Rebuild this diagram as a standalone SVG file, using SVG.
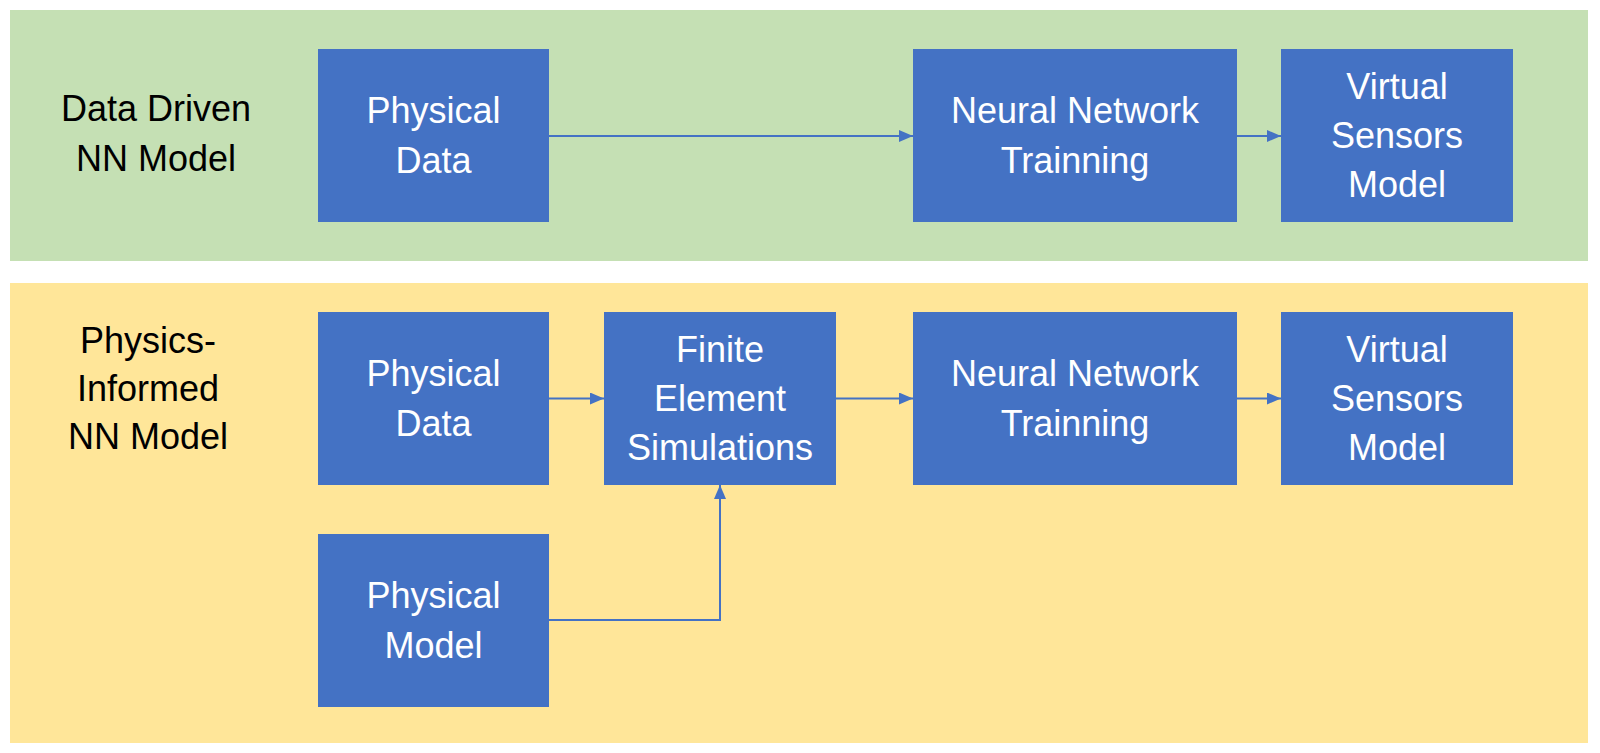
<svg xmlns="http://www.w3.org/2000/svg" width="1600" height="753" viewBox="0 0 1600 753">
<style>
.box{fill:#4472C4;}
.bt{fill:#FFFFFF;font-family:"Liberation Sans",Arial,sans-serif;font-size:36px;text-anchor:middle;}
.lbl{fill:#000000;font-family:"Liberation Sans",Arial,sans-serif;font-size:36px;text-anchor:middle;}
.con{fill:none;stroke:#4472C4;stroke-width:2;}
</style>
<defs>
<marker id="arr" markerWidth="14" markerHeight="12" refX="14" refY="6" orient="auto" markerUnits="userSpaceOnUse">
<path d="M0,0 L14,6 L0,12 Z" fill="#4472C4"/>
</marker>
</defs>
<rect width="1600" height="753" fill="#FFFFFF"/>
<g id="band-data-driven">
<rect x="10" y="10" width="1578" height="251" fill="#C5E0B4"/>
<text class="lbl" x="156" y="121">Data Driven</text>
<text class="lbl" x="156" y="171">NN Model</text>
</g>
<g id="band-physics-informed">
<rect x="10" y="283" width="1578" height="460" fill="#FFE699"/>
<text class="lbl" x="148" y="353">Physics-</text>
<text class="lbl" x="148" y="401">Informed</text>
<text class="lbl" x="148" y="449">NN Model</text>
</g>
<g id="dd-physical-data">
<rect class="box" x="318" y="49" width="231" height="173"/>
<text class="bt" x="433.5" y="123">Physical</text>
<text class="bt" x="433.5" y="173">Data</text>
</g>
<g id="dd-nn-training">
<rect class="box" x="913" y="49" width="324" height="173"/>
<text class="bt" x="1075" y="123">Neural Network</text>
<text class="bt" x="1075" y="173">Trainning</text>
</g>
<g id="dd-virtual-sensors">
<rect class="box" x="1281" y="49" width="232" height="173"/>
<text class="bt" x="1397" y="99">Virtual</text>
<text class="bt" x="1397" y="148">Sensors</text>
<text class="bt" x="1397" y="197">Model</text>
</g>
<g id="pi-physical-data">
<rect class="box" x="318" y="312" width="231" height="173"/>
<text class="bt" x="433.5" y="386">Physical</text>
<text class="bt" x="433.5" y="436">Data</text>
</g>
<g id="pi-fe-simulations">
<rect class="box" x="604" y="312" width="232" height="173"/>
<text class="bt" x="720" y="362">Finite</text>
<text class="bt" x="720" y="411">Element</text>
<text class="bt" x="720" y="460">Simulations</text>
</g>
<g id="pi-nn-training">
<rect class="box" x="913" y="312" width="324" height="173"/>
<text class="bt" x="1075" y="386">Neural Network</text>
<text class="bt" x="1075" y="436">Trainning</text>
</g>
<g id="pi-virtual-sensors">
<rect class="box" x="1281" y="312" width="232" height="173"/>
<text class="bt" x="1397" y="362">Virtual</text>
<text class="bt" x="1397" y="411">Sensors</text>
<text class="bt" x="1397" y="460">Model</text>
</g>
<g id="pi-physical-model">
<rect class="box" x="318" y="534" width="231" height="173"/>
<text class="bt" x="433.5" y="608">Physical</text>
<text class="bt" x="433.5" y="658">Model</text>
</g>
<g id="connectors">
<path class="con" d="M549,136 L913,136" marker-end="url(#arr)"/>
<path class="con" d="M1237,136 L1281,136" marker-end="url(#arr)"/>
<path class="con" d="M549,398.5 L604,398.5" marker-end="url(#arr)"/>
<path class="con" d="M836,398.5 L913,398.5" marker-end="url(#arr)"/>
<path class="con" d="M1237,398.5 L1281,398.5" marker-end="url(#arr)"/>
<path class="con" d="M549,620 L720,620 L720,485" marker-end="url(#arr)"/>
</g>
</svg>
